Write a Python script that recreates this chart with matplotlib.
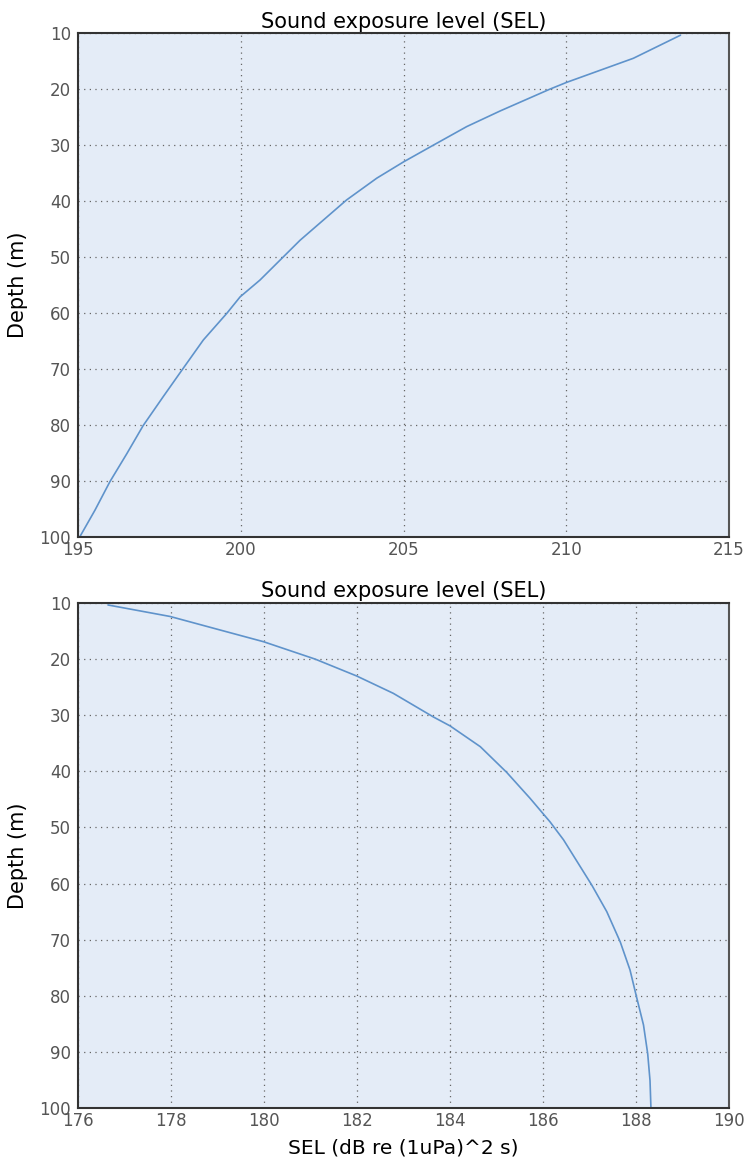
import numpy as np
import matplotlib.pyplot as plt

# SEL vs depth, first scenario
depth_a = [10.4, 14.5, 18.8, 20.0, 23.9, 26.7, 30.0, 33.0, 35.9, 39.8, 47.0,
           54.1, 57.1, 60.05, 64.8, 70.2, 74.9, 80.1, 85.1, 90.1, 95.2, 99.9]
sel_a = [213.5, 212.06, 210.01, 209.5, 207.97, 206.94, 205.92, 205.0, 204.18,
         203.25, 201.82, 200.59, 199.98, 199.57, 198.85, 198.19, 197.62, 197.0,
         196.5, 195.98, 195.52, 195.06]

# SEL vs depth, second scenario
depth_b = [10.36, 12.4, 14.8, 16.9, 20.0, 23.0, 26.1, 30.3, 31.9, 35.6, 40.2,
           44.8, 49.0, 52.2, 60.3, 65.0, 70.4, 75.4, 80.2, 85.2, 90.3, 95.1, 100]
sel_b = [176.65, 177.98, 179.05, 179.99, 181.1, 181.99, 182.78, 183.64, 184.0,
         184.65, 185.22, 185.72, 186.15, 186.44, 187.05, 187.37, 187.66, 187.87,
         188.01, 188.16, 188.25, 188.30, 188.32]

yticks = [10, 20, 30, 40, 50, 60, 70, 80, 90, 100]

fig = plt.figure(figsize=(7.46, 11.65), dpi=100)
ax1 = fig.add_axes([0.1046, 0.539, 0.8727, 0.4326])
ax2 = fig.add_axes([0.1046, 0.0489, 0.8727, 0.4335])

def style(ax, xlim, xticks):
    ax.set_facecolor('#e4ecf7')
    ax.set_xlim(*xlim)
    ax.set_ylim(100, 10)
    ax.set_xticks(xticks)
    ax.set_yticks(yticks)
    ax.grid(True, linestyle=(0, (1, 3.5)), color='#666666', linewidth=0.9)
    ax.set_axisbelow(True)
    ax.tick_params(length=0, labelsize=12, labelcolor='#555555')
    ax.tick_params(axis='y', pad=5)
    ax.tick_params(axis='x', pad=3)
    for s in ax.spines.values():
        s.set_color('#333333')
        s.set_linewidth(1.5)
    ax.spines['right'].set_color('#555555')
    ax.set_title('Sound exposure level (SEL)', fontsize=15, pad=4)
    ax.set_ylabel('Depth (m)', fontsize=15, labelpad=8)

ax1.plot(sel_a, depth_a, color='#5f93cb', linewidth=1.2)
style(ax1, (195, 215), [195, 200, 205, 210, 215])

ax2.plot(sel_b, depth_b, color='#5f93cb', linewidth=1.2)
style(ax2, (176, 190), [176, 178, 180, 182, 184, 186, 188, 190])
ax2.set_xlabel('SEL (dB re (1uPa)^2 s)', fontsize=14.5, labelpad=6)

fig.savefig('out.png', dpi=100)
